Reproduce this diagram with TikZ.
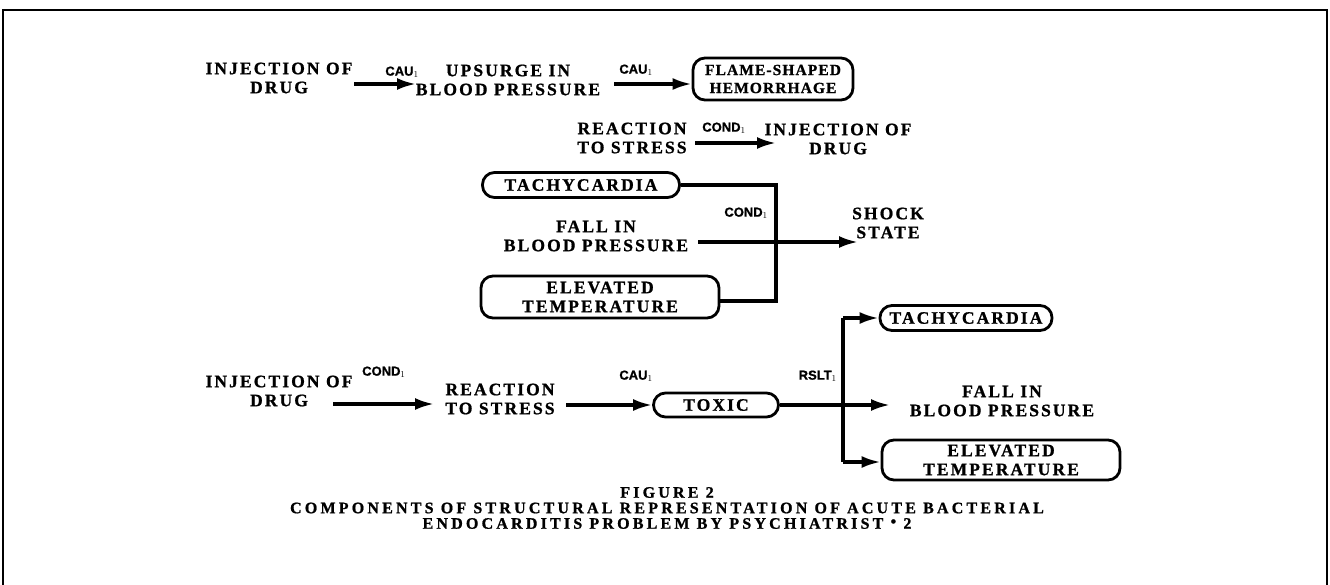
\documentclass[tikz,border=0pt]{standalone}
\usepackage{fontspec}
\setmainfont{Liberation Serif}
\newfontfamily\dfont[LetterSpace=12,BoldFeatures={FakeBold=1}]{Liberation Serif}
\newfontfamily\boxfont[LetterSpace=7,BoldFeatures={FakeBold=1}]{Liberation Serif}
\newfontfamily\capfont[LetterSpace=20,BoldFeatures={FakeBold=1}]{Liberation Serif}
\newfontfamily\lblfont[BoldFeatures={FakeBold=1}]{Liberation Sans}
\usetikzlibrary{arrows.meta}
\begin{document}
\begin{tikzpicture}[x=1pt,y=-1pt,
  txt/.style={align=center,inner sep=0pt,font=\dfont\bfseries\fontsize{17.5}{19}\selectfont},
  rbox/.style={txt,draw,line width=2.8pt,rounded corners=12pt,inner xsep=8pt},
  lbl/.style={inner sep=0pt,font=\lblfont\bfseries\fontsize{13}{14}\selectfont},
  arr/.style={line width=3.2pt,-{Latex[length=19pt,width=12pt]}},
  ln/.style={line width=3.2pt}]
\useasboundingbox (0,0) rectangle (1330,584);
% frame
\draw[line width=2.4pt] (3,600) -- (3,10) -- (1327,10) -- (1327,600);

% row 1
\node[txt] (i1) at (279,78) {INJECTION OF\\DRUG};
\node[txt] (u1) at (508,80) {UPSURGE IN\\BLOOD PRESSURE};
\node[rbox,minimum width=160pt,minimum height=42pt,inner xsep=4pt,font=\boxfont\bfseries\fontsize{15.5}{18}\selectfont] (f1) at (773,79) {FLAME-SHAPED\\HEMORRHAGE};
\coordinate (a1s) at (354,84);
\coordinate (a1e) at (416,84);
\draw[arr] (a1s) -- (a1e);
\coordinate (a2s) at (614,84);
\draw[arr] (a2s) -- (f1.west |- a2s);
\node[lbl] (c1) at (402,72) {CAU$_{1}$};
\node[lbl] (c2) at (636,70) {CAU$_{1}$};

% row 2
\node[txt] (r2) at (632,138) {REACTION\\TO STRESS};
\node[txt] (i2) at (838,139) {INJECTION OF\\DRUG};
\coordinate (a3s) at (695,143);
\coordinate (a3e) at (776,143);
\draw[arr] (a3s) -- (a3e);
\node[lbl] (c3) at (724,128) {COND$_{1}$};

% row 3
\node[rbox,minimum width=197pt,minimum height=25pt] (t3) at (581,185) {TACHYCARDIA};
\node[txt] (fb3) at (596,236) {FALL IN\\BLOOD PRESSURE};
\node[rbox,minimum width=238pt,minimum height=42pt] (e3) at (600,297) {ELEVATED\\TEMPERATURE};
\node[txt] (s3) at (888,223) {SHOCK\\STATE};
\coordinate (j3t) at (776,185);
\coordinate (j3b) at (776,301);
\draw[ln] (t3.east) -- (j3t) -- (j3b) -- (e3.east |- j3b);
\coordinate (a4s) at (698,242);
\coordinate (a4e) at (858,242);
\draw[arr] (a4s) -- (a4e);
\node[lbl,anchor=east] (c4) at (768,213) {COND$_{1}$};

% row 4
\node[txt] (i4) at (279,391) {INJECTION OF\\DRUG};
\node[txt] (r4) at (500,399) {REACTION\\TO STRESS};
\node[rbox,minimum width=125pt,minimum height=24pt] (x4) at (716,405) {TOXIC};
\node[rbox,minimum width=172pt,minimum height=25pt] (t4) at (966,318) {TACHYCARDIA};
\node[txt] (fb4) at (1002,401) {FALL IN\\BLOOD PRESSURE};
\node[rbox,minimum width=238pt,minimum height=40pt] (e4) at (1001,460) {ELEVATED\\TEMPERATURE};
\coordinate (a5s) at (333,404);
\coordinate (a5e) at (434,404);
\draw[arr] (a5s) -- (a5e);
\coordinate (a6s) at (566,405);
\draw[arr] (a6s) -- (x4.west);
\coordinate (a7e) at (890,405);
\draw[arr] (x4.east) -- (a7e);
\coordinate (j4t) at (843,318);
\coordinate (j4b) at (843,462);
\draw[ln] (j4t) -- (j4b);
\draw[arr] (j4t) -- (t4.west);
\draw[arr] (j4b) -- (e4.west |- j4b);
\node[lbl,anchor=west] (c5) at (362,372) {COND$_{1}$};
\node[lbl] (c6) at (636,376) {CAU$_{1}$};
\node[lbl,anchor=east] (c7) at (837,376) {RSLT$_{1}$};

% caption
\node[align=center,inner sep=0pt,font=\capfont\bfseries\fontsize{16}{15.5}\selectfont] (cap) at (667,508)
 {FIGURE 2\\COMPONENTS OF STRUCTURAL REPRESENTATION OF ACUTE BACTERIAL\\ENDOCARDITIS PROBLEM BY PSYCHIATRIST \raisebox{2pt}{\textbullet} 2};
\end{tikzpicture}
\end{document}
